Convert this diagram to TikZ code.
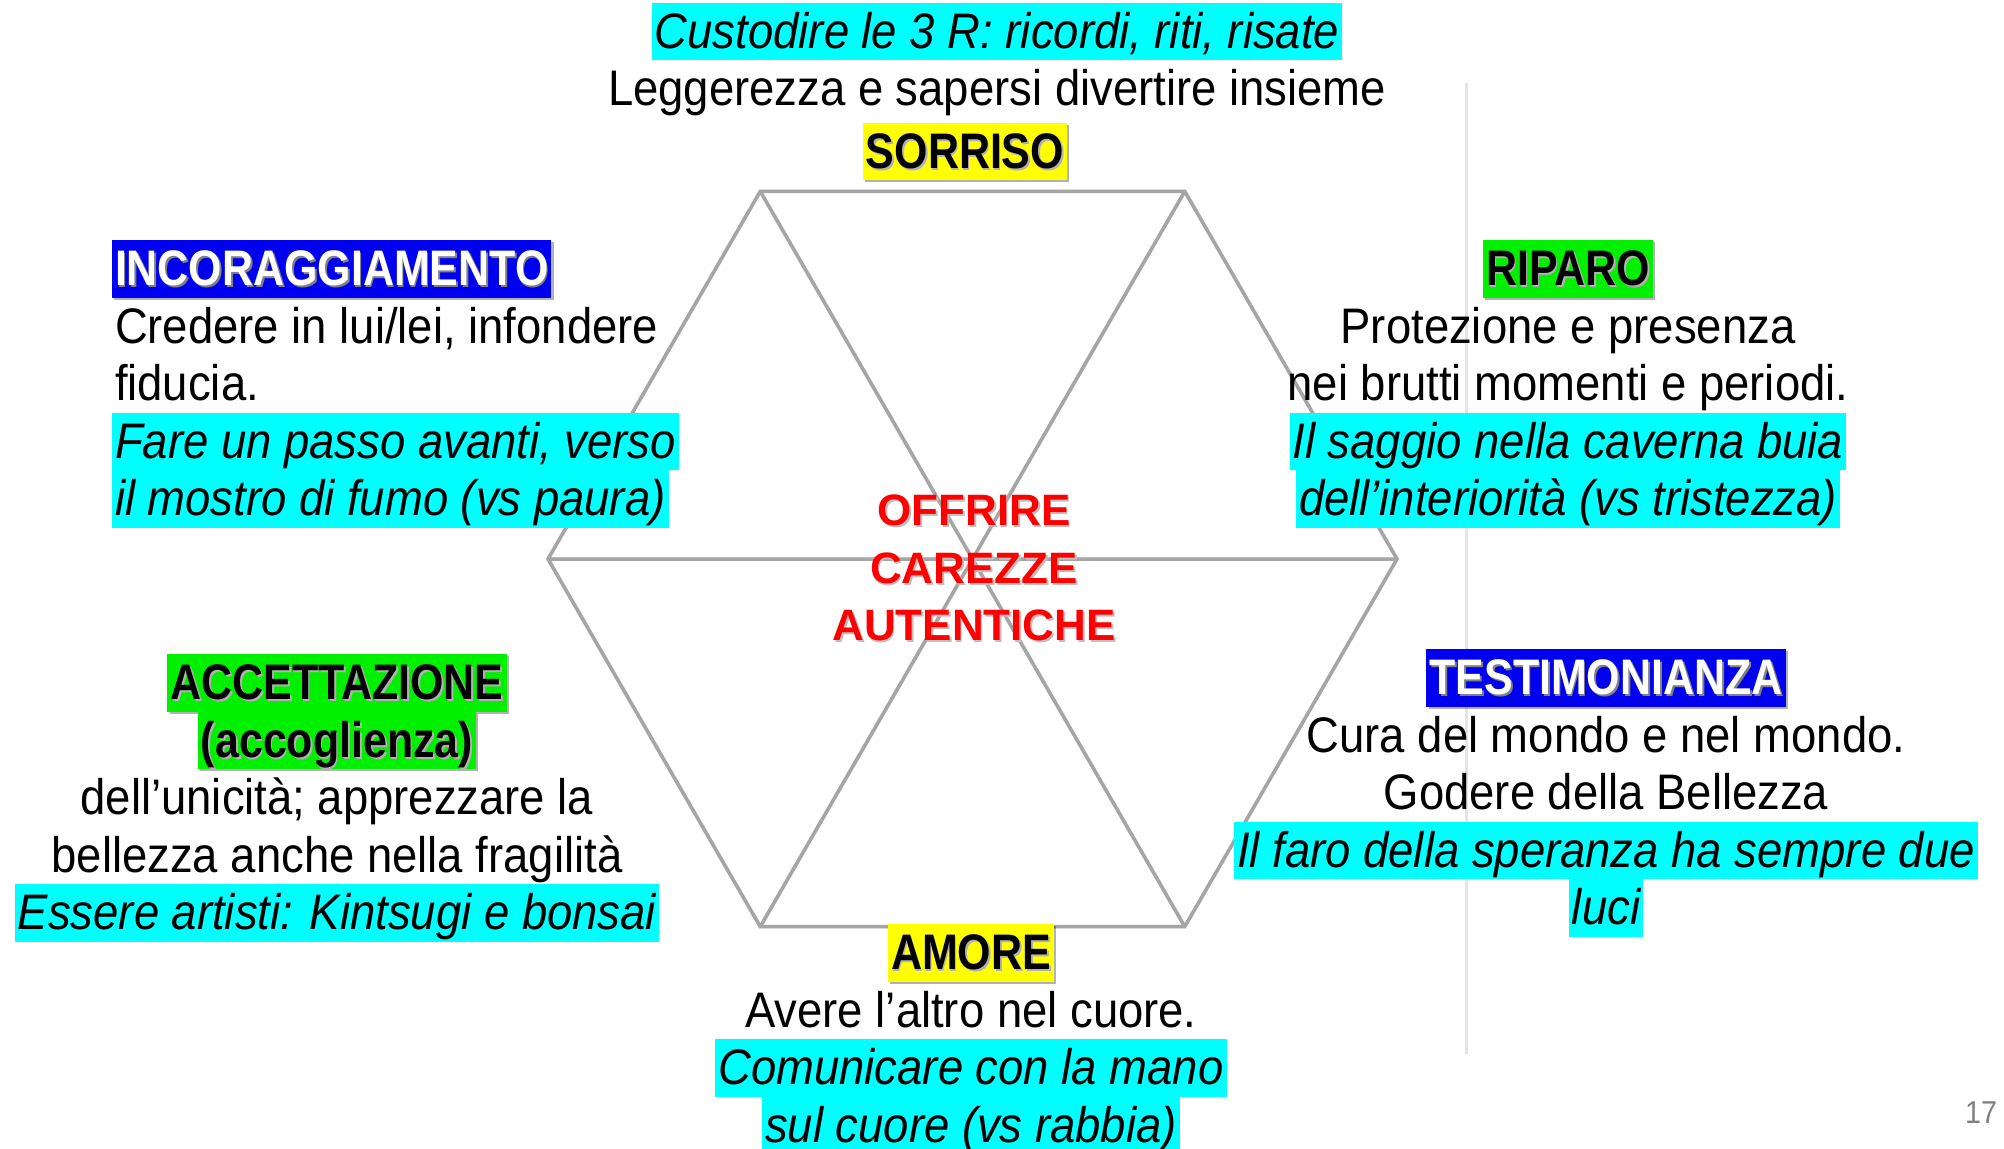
\documentclass[tikz,border=0pt]{standalone}
\usepackage{fontspec}
\setmainfont{Liberation Sans}[FakeStretch=0.91]
\newfontfamily\tagfont{Liberation Sans}[FakeStretch=0.86]
\newfontfamily\corefont{Liberation Sans}
\usetikzlibrary{calc,positioning,shadows}
\definecolor{hlcyan}{RGB}{0,255,255}
\definecolor{tagblue}{RGB}{0,0,240}
\definecolor{taggreen}{RGB}{0,240,0}
\definecolor{tagyellow}{RGB}{255,255,0}
\definecolor{hexgray}{RGB}{165,165,165}
\definecolor{hexshade}{RGB}{228,228,228}
\definecolor{divgray}{RGB}{226,228,232}
\newcommand{\shad}[2][black!30]{\rlap{\hspace{0.5pt}\raisebox{-0.5pt}{\color{#1}#2}}#2}
\tikzset{
  txt/.style={font=\fontsize{14.2}{16.4}\selectfont, inner xsep=0.03cm, inner ysep=0pt,
    outer sep=0pt, text height=0.455cm, text depth=0.12cm},
  hl/.style={txt, fill=hlcyan, font=\fontsize{14.2}{16.4}\selectfont\itshape},
  tag/.style={txt, font=\fontsize{14.2}{16.4}\selectfont\tagfont\bfseries,
    drop shadow={shadow xshift=0.6pt, shadow yshift=-0.6pt, opacity=0.3, fill=black}},
  hexline/.style={draw=hexgray, line width=0.035cm},
}

\begin{document}
\begin{tikzpicture}[x=0.01cm, y=-0.01cm]
\useasboundingbox (0,0) rectangle (2004,1148);
% divider on the right
\draw[divgray, line width=0.03cm] (1466,83) -- (1466,1054);
% hexagon with its three diagonals
\coordinate (c) at (972.5,559);
\foreach \i in {0,...,5}
  \coordinate (v\i) at ($(c)+(\i*60:424.5)$);
\begin{scope}[yshift=-0.05cm]
\draw[hexshade, line width=0.035cm] (v0) -- (v1) -- (v2) -- (v3) -- (v4) -- (v5) -- cycle;
\draw[hexshade, line width=0.035cm] (v0) -- (v3) (v1) -- (v4) (v2) -- (v5);
\end{scope}
\draw[hexline] (v0) -- (v1) -- (v2) -- (v3) -- (v4) -- (v5) -- cycle;
\draw[hexline] (v0) -- (v3) (v1) -- (v4) (v2) -- (v5);

% top
\node[hl] (cust) at (997,31.5) {Custodire le 3 R: ricordi, riti, risate};
\node[txt, below=0pt of cust] (legg) {Leggerezza e sapersi divertire insieme};
\node[tag, fill=tagyellow] (sorr) at (965,151.5) {\shad{SORRISO}};

% upper left
\node[tag, fill=tagblue, text=white, anchor=west] (inc) at (112,269) {\shad[black!50]{INCORAGGIAMENTO}};
\node[txt, below=0pt of inc.south west, anchor=north west] (inc1) {Credere in lui/lei, infondere};
\node[txt, below=0pt of inc1.south west, anchor=north west] (inc2) {fiducia.};
\node[hl, below=0pt of inc2.south west, anchor=north west] (inc3) {Fare un passo avanti, verso~};
\node[hl, below=0pt of inc3.south west, anchor=north west] (inc4) {il mostro di fumo (vs paura)};

% upper right
\node[tag, fill=taggreen] (rip) at (1568,269) {\shad{RIPARO}};
\node[txt, below=0pt of rip] (rip1) {Protezione e presenza};
\node[txt, below=0pt of rip1] (rip2) {nei brutti momenti e periodi.};
\node[hl, below=0pt of rip2] (rip3) {Il saggio nella caverna buia~};
\node[hl, below=0pt of rip3] (rip4) {dell’interiorità (vs tristezza)};

% lower left
\node[tag, fill=taggreen] (acc) at (337,683) {\shad{ACCETTAZIONE}};
\node[tag, fill=taggreen, below=0pt of acc] (acc1) {\shad{(accoglienza)}};
\node[txt, below=0pt of acc1] (acc2) {dell’unicità; apprezzare la};
\node[txt, below=0pt of acc2] (acc3) {bellezza anche nella fragilità};
\node[hl, below=0pt of acc3] (acc4) {Essere artisti: Kintsugi e bonsai};

% lower right
\node[tag, fill=tagblue, text=white] (test) at (1606,678) {\shad[black!50]{TESTIMONIANZA}};
\node[txt, below=0pt of test] (test1) {Cura del mondo e nel mondo.};
\node[txt, below=0pt of test1] (test2) {Godere della Bellezza};
\node[hl, below=0pt of test2] (test3) {Il faro della speranza ha sempre due};
\node[hl, below=0pt of test3] (test4) {luci};

% bottom
\node[tag, fill=tagyellow] (amo) at (971,953) {\shad{AMORE}};
\node[txt, below=0pt of amo] (amo1) {Avere l’altro nel cuore.};
\node[hl, below=0pt of amo1] (amo2) {Comunicare con la mano~};
\node[hl, below=0pt of amo2] (amo3) {sul cuore (vs rabbia)};

% centre
\node[text=red, align=center, font=\fontsize{12.5}{16.4}\selectfont\corefont\bfseries] (core) at (974,569)
  {\shad[black!25]{OFFRIRE}\\\shad[black!25]{CAREZZE}\\\shad[black!25]{AUTENTICHE}};

\node[text=gray, font=\fontsize{9}{11}\selectfont] (pnum) at (1981,1113) {17};
\end{tikzpicture}
\end{document}
